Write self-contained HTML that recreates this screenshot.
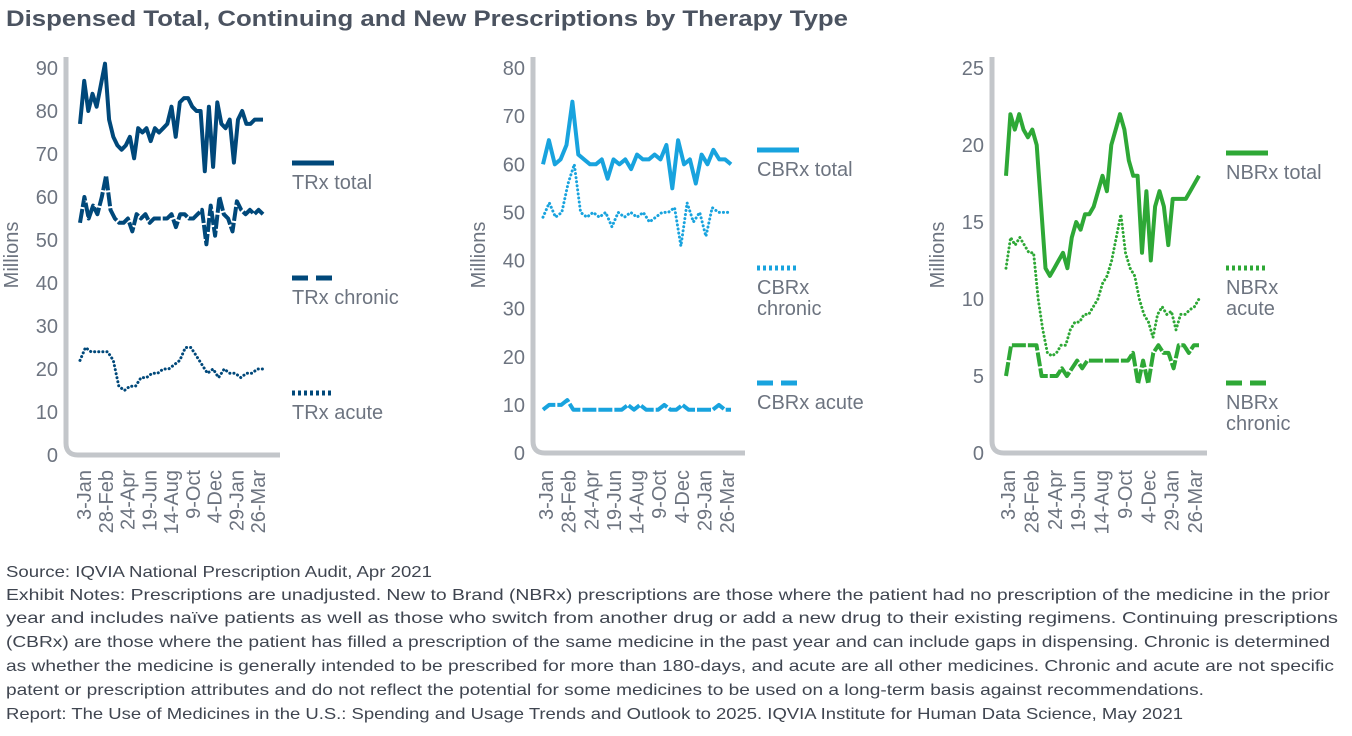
<!DOCTYPE html>
<html><head><meta charset="utf-8"><style>
body{margin:0;width:1352px;height:736px;background:#fff;font-family:"Liberation Sans",sans-serif;overflow:hidden}
.l{position:absolute;left:6px;white-space:nowrap;transform-origin:0 50%}
.t{font-size:22px;font-weight:bold;color:#4b5360}
.n{font-size:16px;color:#3f4550}
svg{position:absolute;left:0;top:0}
</style></head><body>
<div class="l t" data-w="842" style="top:6px">Dispensed Total, Continuing and New Prescriptions by Therapy Type</div>
<div class="l n" data-w="426" style="top:564px">Source: IQVIA National Prescription Audit, Apr 2021</div>
<div class="l n" data-w="1324" style="top:587px">Exhibit Notes: Prescriptions are unadjusted. New to Brand (NBRx) prescriptions are those where the patient had no prescription of the medicine in the prior</div>
<div class="l n" data-w="1332" style="top:610px">year and includes naïve patients as well as those who switch from another drug or add a new drug to their existing regimens. Continuing prescriptions</div>
<div class="l n" data-w="1324" style="top:634px">(CBRx) are those where the patient has filled a prescription of the same medicine in the past year and can include gaps in dispensing. Chronic is determined</div>
<div class="l n" data-w="1328" style="top:658px">as whether the medicine is generally intended to be prescribed for more than 180-days, and acute are all other medicines. Chronic and acute are not specific</div>
<div class="l n" data-w="1198" style="top:682px">patent or prescription attributes and do not reflect the potential for some medicines to be used on a long-term basis against recommendations.</div>
<div class="l n" data-w="1177" style="top:706px">Report: The Use of Medicines in the U.S.: Spending and Usage Trends and Outlook to 2025. IQVIA Institute for Human Data Science, May 2021</div>
<svg id="s" width="1352" height="560" font-family="Liberation Sans, sans-serif" fill="#6d7480"></svg>
<script>
document.querySelectorAll('.l').forEach(function(e){var w=e.getBoundingClientRect().width;e.style.transform='scaleX('+(+e.dataset.w/w)+')';});
var s=document.getElementById('s'),h='';
var labs=['3-Jan','28-Feb','24-Apr','19-Jun','14-Aug','9-Oct','4-Dec','29-Jan','26-Mar'];
function panel(o){
 var ax=o.ax,y0=o.y0,yt=68,sc=(y0-yt)/o.max;
 h+='<path d="M'+ax+' 57 V'+(y0-12)+' Q'+ax+' '+y0+' '+(ax+12)+' '+y0+' H'+o.axEnd+'" fill="none" stroke="#c3c6ca" stroke-width="5"/>';
 for(var v=0;v<=o.max;v+=o.step){h+='<text x="'+(ax-8)+'" y="'+(y0-v*sc+7)+'" font-size="20" text-anchor="end">'+v+'</text>';}
 h+='<text transform="translate('+(ax-48)+' 255) rotate(-90)" font-size="20" text-anchor="middle">Millions</text>';
 for(var i=0;i<9;i++){var x=o.x0+i*(o.x1-o.x0)/8;h+='<text transform="translate('+(x+7)+' 470) rotate(-90)" font-size="20" text-anchor="end">'+labs[i]+'</text>';}
 o.series.forEach(function(se){
  var d=se.d,pts=d.map(function(v,i){return (o.d0+i*(o.d1-o.d0)/(d.length-1)).toFixed(1)+','+(y0-v*sc).toFixed(1)}).join(' ');
  h+='<polyline points="'+pts+'" fill="none" stroke="'+o.c+'" stroke-width="'+(se.w||4)+'" stroke-linejoin="round" '+(se.da?'stroke-dasharray="'+se.da+'" stroke-linecap="'+(se.cap||'butt')+'"':'')+'/>';
 });
 o.leg.forEach(function(l){
  h+='<line x1="'+o.lx+'" x2="'+(o.lx+42)+'" y1="'+l.y+'" y2="'+l.y+'" stroke="'+o.c+'" stroke-width="5" '+(l.da?'stroke-dasharray="'+l.da+'"':'')+'/>';
  l.t.forEach(function(t,k){h+='<text x="'+o.lx+'" y="'+(l.y+26+k*21)+'" font-size="20">'+t+'</text>';});
 });
}
panel({ax:66,y0:455,max:90,step:10,axEnd:280,x0:84,x1:258,d0:80,d1:263,c:'#00487a',lx:292,
 series:[
 {d:[77,87,80,84,81,86,91,78,74,72,71,72,74,69,76,75,76,73,76,75,76,77,81,74,82,83,83,81,80,80,66,81,67,82,77,76,78,68,78,80,77,77,78,78,78]},
 {d:[54,60,55,58,56,60,65,57,55,54,54,55,52,56,55,56,54,55,55,55,55,56,53,56,56,55,55,56,57,49,58,51,60,56,55,52,59,57,56,57,56,57,56],da:'14 2'},
 {d:[22,25,24,24,24,24,22,16,15,16,16,18,18,19,19,20,20,21,22,25,25,23,21,19,20,18,20,19,19,18,19,19,20,20],w:3,da:'0.1 4',cap:'round'}],
 leg:[{y:163,t:['TRx total']},{y:278,t:['TRx chronic'],da:'16 8'},{y:393,t:['TRx acute'],da:'3 3'}]});
panel({ax:533,y0:453,max:80,step:10,axEnd:745,x0:546,x1:727,d0:543,d1:731,c:'#18a3de',lx:757,
 series:[
 {d:[60,65,60,61,64,73,62,61,60,60,61,57,61,60,61,59,62,61,61,62,61,64,55,65,60,61,56,62,60,63,61,61,60]},
 {d:[49,52,49,50,56,60,50,49,50,49,50,47,50,49,50,49,50,48,49,50,50,51,43,52,48,50,45,51,50,50,50],w:3,da:'0.1 4',cap:'round'},
 {d:[9,10,10,10,11,9,9,9,9,9,9,9,9,9,10,9,10,9,9,9,10,9,9,10,9,9,9,9,9,10,9,9],da:'14 2'}],
 leg:[{y:150,t:['CBRx total']},{y:268,t:['CBRx','chronic'],da:'3 3'},{y:383,t:['CBRx acute'],da:'16 8'}]});
panel({ax:992,y0:453,max:25,step:5,axEnd:1207,x0:1008,x1:1195,d0:1006,d1:1199,c:'#2ea836',lx:1226,
 series:[
 {d:[18,22,21,22,21,20.5,21,20,16,12,11.5,12,12.5,13,12,14,15,14.5,15.5,15.5,16,17,18,17,20,21,22,21,19,18,18,13,17,12.5,16,17,16,13.5,16.5,16.5,16.5,16.5,17,17.5,18]},
 {d:[12,14,13.5,14,13.5,13,13,10,8,6.5,6.3,6.5,7,7,8,8.5,8.5,9,9,9.5,10,11,11.5,12.5,14,15.5,13,12,11.5,10,9,8.5,7.5,9,9.5,9,9.2,8,9,9,9.3,9.5,10],w:3,da:'0.1 4',cap:'round'},
 {d:[5,7,7,7,7,7,7,5,5,5,5,5.5,5,5.5,6,5.5,6,6,6,6,6,6,6,6,6,6.5,4.5,6,4.5,6.5,7,6.5,6.5,5.5,7,7,6.5,7,7],da:'14 2'}],
 leg:[{y:153,t:['NBRx total']},{y:268,t:['NBRx','acute'],da:'3 3'},{y:383,t:['NBRx','chronic'],da:'16 8'}]});
s.innerHTML=h;
</script>
</body></html>
